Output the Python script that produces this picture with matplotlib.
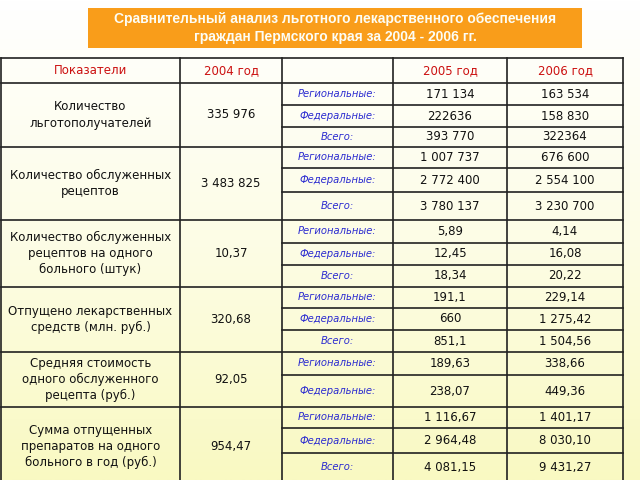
import numpy as np
import matplotlib.pyplot as plt
from matplotlib.patches import Rectangle
from matplotlib.colors import LinearSegmentedColormap

title = "Сравнительный анализ льготного лекарственного обеспечения\nграждан Пермского края за 2004 - 2006 гг."
headers = ["Показатели", "2004 год", "", "2005 год", "2006 год"]
indicators = [
    "Количество\nльготополучателей",
    "Количество обслуженных\nрецептов",
    "Количество обслуженных\nрецептов на одного\nбольного (штук)",
    "Отпущено лекарственных\nсредств (млн. руб.)",
    "Средняя стоимость\nодного обслуженного\nрецепта (руб.)",
    "Сумма отпущенных\nпрепаратов на одного\nбольного в год (руб.)",
]
values_2004 = ["335 976", "3 483 825", "10,37", "320,68", "92,05", "954,47"]
sub_labels = [
    ["Региональные:", "Федеральные:", "Всего:"],
    ["Региональные:", "Федеральные:", "Всего:"],
    ["Региональные:", "Федеральные:", "Всего:"],
    ["Региональные:", "Федеральные:", "Всего:"],
    ["Региональные:", "Федеральные:"],
    ["Региональные:", "Федеральные:", "Всего:"],
]
values_2005 = [
    ["171 134", "222636", "393 770"],
    ["1 007 737", "2 772 400", "3 780 137"],
    ["5,89", "12,45", "18,34"],
    ["191,1", "660", "851,1"],
    ["189,63", "238,07"],
    ["1 116,67", "2 964,48", "4 081,15"],
]
values_2006 = [
    ["163 534", "158 830", "322364"],
    ["676 600", "2 554 100", "3 230 700"],
    ["4,14", "16,08", "20,22"],
    ["229,14", "1 275,42", "1 504,56"],
    ["338,66", "449,36"],
    ["1 401,17", "8 030,10", "9 431,27"],
]

# layout (pixels)
W, H = 640, 480
col_x = [1, 180, 282, 393, 507, 623]
header_y = (58, 83)
sub_rows = [
    [83, 105, 127, 147],
    [147, 168, 192, 220],
    [220, 243, 265, 287],
    [287, 308, 330, 352],
    [352, 375, 407],
    [407, 428, 453, 486],
]

fig = plt.figure(figsize=(6.4, 4.8), dpi=100)
ax = fig.add_axes([0, 0, 1, 1])
ax.set_xlim(0, W)
ax.set_ylim(H, 0)
ax.axis("off")

cmap = LinearSegmentedColormap.from_list("bg", ["#ffffff", "#fdfde6", "#f9f9c2"])
grad = np.linspace(0, 1, 256).reshape(-1, 1)
ax.imshow(grad, extent=[0, W, H, 0], cmap=cmap, aspect="auto", zorder=0)

# title box
ax.add_patch(Rectangle((88, 8), 494, 40, facecolor="#f99d1a", edgecolor="none", zorder=1))
ax.text((88 + 582) / 2, 28, title, ha="center", va="center", color="#fdfdf5",
        fontsize=10, fontweight="bold", family="Liberation Sans", linespacing=1.35, zorder=2)

lc = "#222222"
lw = 1.2
# header
for i, h in enumerate(headers):
    if h:
        ax.text((col_x[i] + col_x[i + 1]) / 2, sum(header_y) / 2 + 0.5, h, ha="center", va="center",
                color="#cc1111", fontsize=8.5, family="DejaVu Sans", zorder=3)

# horizontal lines
ax.plot([col_x[0], col_x[-1]], [header_y[0]] * 2, color=lc, lw=lw, zorder=3)
ax.plot([col_x[0], col_x[-1]], [header_y[1]] * 2, color=lc, lw=lw, zorder=3)
for g, rows in enumerate(sub_rows):
    ytop, ybot = rows[0], rows[-1]
    ax.plot([col_x[0], col_x[-1]], [ybot] * 2, color=lc, lw=lw, zorder=3)
    for y in rows[1:-1]:
        ax.plot([col_x[2], col_x[-1]], [y] * 2, color=lc, lw=lw, zorder=3)
    ymid = (ytop + ybot) / 2
    ax.text((col_x[0] + col_x[1]) / 2, ymid, indicators[g], ha="center", va="center",
            color="#111111", fontsize=8.5, family="DejaVu Sans", linespacing=1.3, zorder=3)
    ax.text((col_x[1] + col_x[2]) / 2, ymid, values_2004[g], ha="center", va="center",
            color="#111111", fontsize=8.5, family="DejaVu Sans", zorder=3)
    for k in range(len(rows) - 1):
        yc = (rows[k] + rows[k + 1]) / 2
        if g == 5 and k == 2:
            yc = 467
        ax.text((col_x[2] + col_x[3]) / 2, yc, sub_labels[g][k], ha="center", va="center",
                color="#2b2bd0", fontsize=7.2, style="italic", family="DejaVu Sans", zorder=3)
        ax.text((col_x[3] + col_x[4]) / 2, yc, values_2005[g][k], ha="center", va="center",
                color="#111111", fontsize=8.5, family="DejaVu Sans", zorder=3)
        ax.text((col_x[4] + col_x[5]) / 2, yc, values_2006[g][k], ha="center", va="center",
                color="#111111", fontsize=8.5, family="DejaVu Sans", zorder=3)

# vertical lines
for x in col_x:
    ax.plot([x, x], [header_y[0], H + 5], color=lc, lw=lw, zorder=3)

fig.savefig("out.png", dpi=100)
